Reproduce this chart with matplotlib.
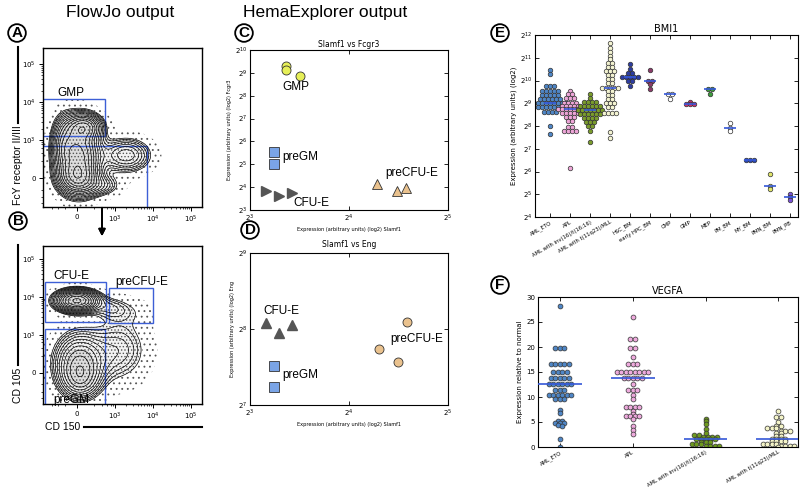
import numpy as np
import matplotlib.pyplot as plt
from matplotlib.patches import Rectangle

W, H = 800, 487

# ---------------- FlowJo panels (decade units: 0 -> 0, 1 -> 10^3, 2 -> 10^4, 3 -> 10^5)
flow_ticks = [0, 1, 2, 3]
flow_ticklabels = ['0', '$10^3$', '$10^4$', '$10^5$']

# density blobs: centre x, centre y, spread x, spread y, weight
a_blob_x = [0.05, 0.2, 0.0, 1.3, 0.6, -0.35]
a_blob_y = [0.6, 1.35, 0.0, 0.6, -0.2, 0.9]
a_blob_sx = [0.33, 0.28, 0.3, 0.4, 0.35, 0.2]
a_blob_sy = [0.53, 0.2, 0.25, 0.28, 0.18, 0.45]
a_blob_w = [1.0, 0.6, 0.6, 0.35, 0.2, 0.3]

b_blob_x = [0.0, 0.05, 0.1, 1.1, 0.9, 1.5]
b_blob_y = [1.9, 0.25, -0.2, 0.6, 1.7, 1.6]
b_blob_sx = [0.33, 0.4, 0.3, 0.5, 0.3, 0.3]
b_blob_sy = [0.17, 0.49, 0.3, 0.55, 0.2, 0.25]
b_blob_w = [2.5, 1.1, 0.5, 0.4, 0.3, 0.12]

a_gates = [(-0.95, 1.1, 0.74, 2.08), (-0.95, -0.9, 1.84, 0.84)]
b_gates = [(-0.84, 1.34, 0.76, 2.39), (0.84, 1.32, 2.0, 2.24), (-0.84, -0.9, 0.74, 1.16)]

# ---------------- HemaExplorer scatter (log2 values)
c_gmp_x = [3.36, 3.36, 3.50]
c_gmp_y = [9.31, 9.11, 8.88]
c_pregm_x = [3.24, 3.24]
c_pregm_y = [5.53, 5.0]
c_cfue_x = [3.16, 3.29, 3.42]
c_cfue_y = [3.83, 3.61, 3.74]
c_precfue_x = [4.28, 4.48, 4.58]
c_precfue_y = [4.13, 3.83, 3.96]

d_cfue_x = [3.16, 3.29, 3.42]
d_cfue_y = [8.08, 7.95, 8.05]
d_pregm_x = [3.24, 3.24]
d_pregm_y = [7.51, 7.24]
d_precfue_x = [4.59, 4.30, 4.49]
d_precfue_y = [8.09, 7.74, 7.57]

# ---------------- BMI1 (log2 expression)
bmi1_groups = ['AML_ETO', 'APL', 'AML with inv(16)/t(16;16)', 'AML with t(11q23)/MLL',
               'HSC_BM', 'early HPC_BM', 'CMP', 'GMP', 'MEP', 'PM_BM', 'MY_BM',
               'PMN_BM', 'PMN_PB']
bmi1_aml_eto = [10.46, 10.27, 9.76, 9.76, 9.76, 9.55, 9.55, 9.55, 9.55, 9.55,
                9.36, 9.36, 9.36, 9.36, 9.36, 9.17, 9.17, 9.17, 9.17, 9.17, 9.17,
                9.0, 9.0, 9.0, 9.0, 9.0, 9.0, 9.0, 9.0, 9.0,
                8.82, 8.82, 8.82, 8.82, 8.82, 8.82, 8.82, 8.63, 8.63, 8.63, 8.63,
                8.0, 7.65]
bmi1_apl = [9.55, 9.41, 9.41, 9.22, 9.22, 9.22, 9.03, 9.03, 9.03, 9.03,
            8.88, 8.88, 8.88, 8.88, 8.88, 8.73, 8.73, 8.73, 8.73, 8.73, 8.73, 8.73,
            8.56, 8.56, 8.56, 8.56, 8.56, 8.38, 8.38, 8.38, 8.2, 8.2,
            7.95, 7.95, 7.78, 7.78, 7.78, 7.78, 6.14]
bmi1_inv16 = [9.4, 9.23, 9.05, 9.05, 9.05, 9.05, 8.88, 8.88, 8.88, 8.88, 8.88, 8.88,
              8.7, 8.7, 8.7, 8.7, 8.7, 8.7, 8.7, 8.53, 8.53, 8.53, 8.53, 8.53, 8.53,
              8.35, 8.35, 8.35, 8.35, 8.18, 8.18, 8.18, 8.0, 8.0, 7.78, 7.31]
bmi1_mll = [11.63, 11.44, 11.27, 11.08, 10.93, 10.75, 10.75, 10.58, 10.58,
            10.43, 10.43, 10.43, 10.24, 10.24, 10.05, 10.05, 9.88, 9.88,
            9.68, 9.68, 9.68, 9.68, 9.68, 9.54, 9.54, 9.36, 9.36, 9.17, 9.17,
            9.0, 9.0, 9.0, 8.82, 8.82, 8.59, 8.59, 8.59, 8.59, 7.75, 7.46]
bmi1_hsc = [10.71, 10.5, 10.32, 10.32, 10.14, 10.14, 10.14, 10.14, 10.14, 9.97, 9.97, 9.78]
bmi1_hpc = [10.46, 10.0, 10.0, 9.85, 9.63]
bmi1_cmp = [9.41, 9.41, 9.18]
bmi1_gmp = [9.07, 8.95, 8.95, 8.95]
bmi1_mep = [9.63, 9.63, 9.41]
bmi1_pm = [8.12, 7.93, 7.78]
bmi1_my = [6.5, 6.5, 6.5]
bmi1_pmn_bm = [5.9, 5.38, 5.24]
bmi1_pmn_pb = [5.01, 4.87, 4.73]
bmi1_values = [bmi1_aml_eto, bmi1_apl, bmi1_inv16, bmi1_mll, bmi1_hsc, bmi1_hpc,
               bmi1_cmp, bmi1_gmp, bmi1_mep, bmi1_pm, bmi1_my, bmi1_pmn_bm, bmi1_pmn_pb]
bmi1_colors = ['#4f86c6', '#eea6d8', '#7a9c2c', '#f4f4d2', '#2d3da0', '#8c3c6a',
               '#ffffff', '#c8326a', '#3c9c3c', '#ffffff', '#2c48b0', '#dfe46a', '#7a52d6']

# ---------------- VEGFA (relative to normal)
vegfa_groups = ['AML_ETO', 'APL', 'AML with inv(16)/t(16;16)', 'AML with t(11q23)/MLL']
vegfa_aml_eto = [28.3, 19.9, 19.9, 19.9, 16.6, 16.6, 16.6, 16.6, 16.6,
                 15.1, 15.1, 15.1, 15.1, 13.9, 13.9, 13.9, 13.9, 13.9,
                 12.6, 12.6, 12.6, 12.6, 12.6, 12.6, 11.5, 11.5, 11.5,
                 10.5, 10.5, 10.5, 10.5, 10.5, 10.5, 9.6, 9.6, 9.6, 7.4, 6.8,
                 5.2, 5.2, 4.9, 4.9, 4.9, 4.5, 4.2, 1.7, 0.1]
vegfa_apl = [26.0, 21.7, 21.7, 19.9, 19.9, 18.1, 16.6, 16.6, 16.6,
             15.1, 15.1, 15.1, 15.1, 15.1, 15.1, 15.1, 15.1,
             13.8, 13.8, 13.8, 13.8, 13.8, 12.6, 11.5, 11.5, 11.5, 10.5, 9.6,
             8.0, 8.0, 8.0, 8.0, 7.2, 6.6, 6.2, 6.2, 6.2, 6.2, 5.6, 4.2, 3.5, 2.7]
vegfa_inv16 = [5.7, 5.3, 4.6, 3.7, 2.8, 2.4, 2.4, 2.1, 2.1, 2.1, 2.1,
               1.6, 1.6, 1.6, 1.6, 1.6, 1.1, 1.1, 1.1, 0.65, 0.65, 0.65,
               0.3, 0.3, 0.3, 0.3]
vegfa_mll = [7.3, 6.1, 6.1, 5.1, 4.2, 4.2, 3.8, 3.8, 3.8, 3.3, 3.3, 3.3,
             2.8, 2.8, 2.3, 2.3, 1.7, 1.7, 1.7, 1.7, 1.2, 1.2, 1.2, 1.2,
             0.65, 0.65, 0.65, 0.65, 0.3, 0.3, 0.3, 0.3, 0.1]
vegfa_values = [vegfa_aml_eto, vegfa_apl, vegfa_inv16, vegfa_mll]
vegfa_colors = ['#4f86c6', '#eeaadd', '#6e9a1e', '#f4f4c8']

plt.rcParams['font.family'] = 'DejaVu Sans'
plt.rcParams['hatch.color'] = '#555555'
plt.rcParams['hatch.linewidth'] = 0.6
SANS = 'Liberation Sans'
MEDIAN_BLUE = '#3558d8'


def px_axes(fig, x0, y0, x1, y1):
    return fig.add_axes([x0 / W, 1 - y1 / H, (x1 - x0) / W, (y1 - y0) / H])


def fig_xy(x, y):
    return x / W, 1 - y / H


def circled(fig, x, y, letter):
    fig.text(*fig_xy(x, y), letter, ha='center', va='center', fontsize=11,
             fontweight='bold', family=SANS,
             bbox=dict(boxstyle='circle,pad=0.12', fc='white', ec='black', lw=1.3))


def flow_panel(ax, bx, by, bsx, bsy, bw, gates, xlim, ylim):
    gx, gy = np.meshgrid(np.linspace(xlim[0], xlim[1], 300), np.linspace(ylim[0], ylim[1], 300))
    z = np.zeros_like(gx)
    for cx, cy, sx, sy, w in zip(bx, by, bsx, bsy, bw):
        z += w * np.exp(-0.5 * (((gx - cx) / sx) ** 2 + ((gy - cy) / sy) ** 2))
    z /= z.max()
    ax.contourf(gx, gy, z, levels=[0.02, 0.08], colors='none', hatches=['...'])
    ax.contourf(gx, gy, z, levels=[0.08, 0.35, 1.01], colors=['#f2f2f2', '#dcdcdc'])
    ax.contourf(gx, gy, z, levels=[0.08, 1.01], colors='none', hatches=['.....'])
    ax.contour(gx, gy, z, levels=np.geomspace(0.08, 0.95, 14), colors='k', linewidths=0.5)
    for x0, y0, x1, y1 in gates:
        ax.add_patch(Rectangle((x0, y0), x1 - x0, y1 - y0, fill=False,
                               ec='#3d5fd6', lw=1.0))
    ax.set_xlim(xlim)
    ax.set_ylim(ylim)
    ax.set_xticks(flow_ticks)
    ax.set_xticklabels(flow_ticklabels)
    ax.set_yticks(flow_ticks)
    ax.set_yticklabels(flow_ticklabels)
    minors = [d + np.log10(k) for d in (1, 2) for k in range(2, 10)]
    minors += [0.45, 0.65, 0.8, 0.9, 0.95, -0.3, -0.5, -0.65]
    ax.set_xticks([m for m in minors if xlim[0] < m < xlim[1]], minor=True)
    ax.set_yticks([m for m in minors if ylim[0] < m < ylim[1]], minor=True)
    ax.tick_params(labelsize=5, length=3, width=0.7, direction='out', pad=2)
    ax.tick_params(which='minor', length=1.5, width=0.5, direction='out')
    for s in ax.spines.values():
        s.set_linewidth(1.0)


def swarm_x(vals, pos, dy, dx):
    vals = np.asarray(vals, dtype=float)
    rows = np.round((vals - np.median(vals)) / dy)
    xs = np.zeros(len(vals))
    for r in np.unique(rows):
        idx = np.where(rows == r)[0]
        xs[idx] = pos + (np.arange(len(idx)) - (len(idx) - 1) / 2) * dx
    return xs


def classic(ax):
    ax.tick_params(which='both', direction='in', top=True, right=True,
                   length=3, width=0.6, labelsize=5, pad=2)
    for s in ax.spines.values():
        s.set_linewidth(0.8)


fig = plt.figure(figsize=(8, 4.87), dpi=100)

# ---------------- A / B
axA = px_axes(fig, 43, 48, 202, 207)
flow_panel(axA, a_blob_x, a_blob_y, a_blob_sx, a_blob_sy, a_blob_w, a_gates,
           (-0.89, 3.29), (-0.76, 3.42))
axA.text(-0.5, 2.24, 'GMP', fontsize=8.5, family=SANS, va='center')

axB = px_axes(fig, 43, 246, 202, 404)
flow_panel(axB, b_blob_x, b_blob_y, b_blob_sx, b_blob_sy, b_blob_w, b_gates,
           (-0.89, 3.29), (-0.82, 3.34))
axB.text(-0.63, 2.56, 'CFU-E', fontsize=8.5, family=SANS, va='center')
axB.text(1.0, 2.4, 'preCFU-E', fontsize=8.5, family=SANS, va='center')
axB.text(-0.63, -0.71, 'preGM', fontsize=8.5, family=SANS, va='center')

fig.text(*fig_xy(120, 12), 'FlowJo output', ha='center', va='center', fontsize=12.5, family=SANS)
fig.text(*fig_xy(325, 12), 'HemaExplorer output', ha='center', va='center', fontsize=12.5, family=SANS)

fig.text(*fig_xy(18, 165), 'FcY receptor II/III', rotation=90, ha='center', va='center',
         fontsize=7.5, family=SANS)
fig.add_artist(plt.Line2D([18 / W, 18 / W], [1 - 47 / H, 1 - 123 / H], color='k', lw=1.5))
fig.text(*fig_xy(18, 385), 'CD 105', rotation=90, ha='center', va='center', fontsize=7.5, family=SANS)
fig.add_artist(plt.Line2D([18 / W, 18 / W], [1 - 245 / H, 1 - 365 / H], color='k', lw=1.5))
fig.text(*fig_xy(45, 427), 'CD 150', ha='left', va='center', fontsize=7.5, family=SANS)
fig.add_artist(plt.Line2D([84 / W, 202 / W], [1 - 427 / H, 1 - 427 / H], color='k', lw=1.5))

fig.add_artist(plt.annotate('', xy=fig_xy(102, 239), xytext=fig_xy(102, 205),
                            xycoords='figure fraction', textcoords='figure fraction',
                            arrowprops=dict(arrowstyle='-|>', lw=1.3, color='k',
                                            mutation_scale=10)))

# ---------------- C
axC = px_axes(fig, 250, 50, 448, 210)
mk = dict(mec='#333333', mew=0.6, ls='none')
axC.plot(2.0 ** np.array(c_gmp_x), 2.0 ** np.array(c_gmp_y), 'o', mfc='#e6ef58', ms=6.5, **mk)
axC.plot(2.0 ** np.array(c_pregm_x), 2.0 ** np.array(c_pregm_y), 's', mfc='#7aa4e6', ms=6.5, **mk)
axC.plot(2.0 ** np.array(c_cfue_x), 2.0 ** np.array(c_cfue_y), '>', mfc='#555555', mec='#555555',
         ms=7, ls='none')
axC.plot(2.0 ** np.array(c_precfue_x), 2.0 ** np.array(c_precfue_y), '^', mfc='#eac28e', ms=7, **mk)
axC.set_xscale('log', base=2)
axC.set_yscale('log', base=2)
axC.set_xlim(2 ** 3, 2 ** 5)
axC.set_ylim(2 ** 3, 2 ** 10)
classic(axC)
axC.set_title('Slamf1 vs Fcgr3', fontsize=5.5, pad=2)
axC.set_xlabel('Expression (arbitrary units) (log2) Slamf1', fontsize=3.6, labelpad=2)
axC.set_ylabel('Expression (arbitrary units) (log2) Fcgr3', fontsize=3.6, labelpad=2)
for txt, x, y in [('GMP', 3.33, 8.37), ('preGM', 3.33, 5.31), ('preCFU-E', 4.37, 4.62),
                  ('CFU-E', 3.44, 3.31)]:
    axC.text(2 ** x, 2 ** y, txt, fontsize=8.5, family=SANS, va='center')

# ---------------- D
axD = px_axes(fig, 250, 253, 448, 405)
axD.plot(2.0 ** np.array(d_cfue_x), 2.0 ** np.array(d_cfue_y), '^', mfc='#555555', mec='#555555',
         ms=7, ls='none')
axD.plot(2.0 ** np.array(d_pregm_x), 2.0 ** np.array(d_pregm_y), 's', mfc='#7aa4e6', ms=6.5, **mk)
axD.plot(2.0 ** np.array(d_precfue_x), 2.0 ** np.array(d_precfue_y), 'o', mfc='#eac28e', ms=6.5, **mk)
axD.set_xscale('log', base=2)
axD.set_yscale('log', base=2)
axD.set_xlim(2 ** 3, 2 ** 5)
axD.set_ylim(2 ** 7, 2 ** 9)
classic(axD)
axD.set_title('Slamf1 vs Eng', fontsize=5.5, pad=4)
axD.set_xlabel('Expression (arbitrary units) (log2) Slamf1', fontsize=3.6, labelpad=2)
axD.set_ylabel('Expression (arbitrary units) (log2) Eng', fontsize=3.6, labelpad=2)
for txt, x, y in [('CFU-E', 3.14, 8.24), ('preGM', 3.33, 7.39), ('preCFU-E', 4.42, 7.87)]:
    axD.text(2 ** x, 2 ** y, txt, fontsize=8.5, family=SANS, va='center')

# ---------------- E
axE = px_axes(fig, 535, 35, 798, 217)
for i, (vals, col) in enumerate(zip(bmi1_values, bmi1_colors)):
    xs = swarm_x(vals, i, 0.175, 0.2)
    axE.plot(xs, 2.0 ** np.array(vals), 'o', mfc=col, mec='#333333', mew=0.5, ms=3.3, ls='none')
    med = 2.0 ** np.median(vals)
    axE.hlines(med, i - 0.3, i + 0.3, color=MEDIAN_BLUE, lw=1.2, zorder=3)
axE.set_yscale('log', base=2)
axE.set_ylim(2 ** 4, 2 ** 12)
axE.set_xlim(-0.75, 12.4)
axE.set_xticks(range(len(bmi1_groups)))
axE.set_xticklabels(bmi1_groups, rotation=30, ha='right', rotation_mode='anchor')
classic(axE)
axE.tick_params(axis='x', labelsize=3.8)
axE.set_title('BMI1', fontsize=7, pad=2)
axE.set_ylabel('Expression (arbitrary units) (log2)', fontsize=5, labelpad=2)

# ---------------- F
axF = px_axes(fig, 538, 297, 798, 447)
for i, (vals, col) in enumerate(zip(vegfa_values, vegfa_colors)):
    xs = swarm_x(vals, i, 0.6, 0.062)
    axF.plot(xs, vals, 'o', mfc=col, mec='#333333', mew=0.5, ms=3.5, ls='none')
    axF.hlines(np.median(vals), i - 0.3, i + 0.3, color=MEDIAN_BLUE, lw=1.2, zorder=3)
axF.set_ylim(0, 30)
axF.set_xlim(-0.3, 3.27)
axF.set_xticks(range(len(vegfa_groups)))
axF.set_xticklabels(vegfa_groups, rotation=30, ha='right', rotation_mode='anchor')
classic(axF)
axF.tick_params(axis='x', labelsize=3.8)
axF.set_title('VEGFA', fontsize=7, pad=2)
axF.set_ylabel('Expression relative to normal', fontsize=5, labelpad=2)

circled(fig, 17, 33, 'A')
circled(fig, 18, 221, 'B')
circled(fig, 244, 33, 'C')
circled(fig, 250, 230, 'D')
circled(fig, 500, 33, 'E')
circled(fig, 500, 285, 'F')

fig.savefig('out.png', dpi=100)
